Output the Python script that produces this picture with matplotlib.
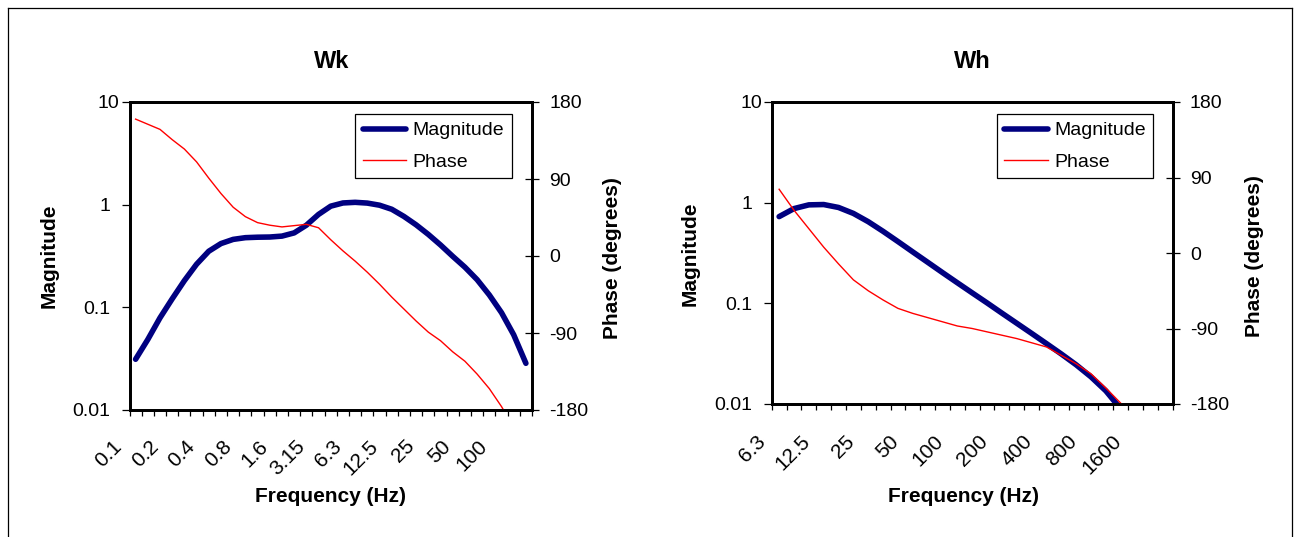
import numpy as np
import matplotlib
matplotlib.use('Agg')
import matplotlib.pyplot as plt
from matplotlib.transforms import ScaledTranslation
from matplotlib.lines import Line2D

plt.rcParams['font.family'] = ['Liberation Sans', 'DejaVu Sans']

# Wk weighting (whole body), one-third octave bands
wk_freq = ['0.1', '0.125', '0.16', '0.2', '0.25', '0.315', '0.4', '0.5', '0.63', '0.8',
           '1', '1.25', '1.6', '2', '2.5', '3.15', '4', '5', '6.3', '8', '10', '12.5',
           '16', '20', '25', '31.5', '40', '50', '63', '80', '100', '125', '160']
wk_mag = [0.0312, 0.0486, 0.079, 0.121, 0.182, 0.263, 0.352, 0.418, 0.459, 0.477,
          0.482, 0.484, 0.494, 0.531, 0.631, 0.804, 0.967, 1.039, 1.054, 1.036, 0.988,
          0.902, 0.768, 0.636, 0.513, 0.405, 0.314, 0.246, 0.186, 0.132, 0.0887,
          0.054, 0.0285]
wk_phase = [160, 154, 148, 136, 125, 110, 91, 73, 57, 46, 39, 36, 34, 35.5, 37, 33,
            19, 6, -6, -19, -33, -48, -62, -76, -89, -99, -112, -123, -138, -155,
            -176, -200, -225]

# Wh weighting (hand-arm)
wh_freq = ['6.3', '8', '10', '12.5', '16', '20', '25', '31.5', '40', '50', '63', '80',
           '100', '125', '160', '200', '250', '315', '400', '500', '630', '800', '1000',
           '1250', '1600', '2000', '2500']
wh_mag = [0.727, 0.873, 0.951, 0.958, 0.896, 0.782, 0.647, 0.519, 0.411, 0.324, 0.256,
          0.202, 0.160, 0.127, 0.101, 0.0799, 0.0634, 0.0503, 0.0398, 0.0314, 0.0245,
          0.0186, 0.0135, 0.00894, 0.00536, 0.00295, 0.00154]
wh_phase = [76, 51, 29, 7, -13, -32, -45, -56, -66, -72, -77, -82, -87, -90, -94, -98,
            -102, -107, -112, -122, -132, -144, -161, -179, -205, -230, -255]

mag_ticks = [0.01, 0.1, 1, 10]
mag_labels = ['0.01', '0.1', '1', '10']
phase_ticks = [-180, -90, 0, 90, 180]
phase_labels = ['-180', '-90', '0', '90', '180']

W, H = 1299, 537
fig = plt.figure(figsize=(W / 100, H / 100), dpi=100)


def px_rect(x0, y0, x1, y1):
    return [x0 / W, 1 - y1 / H, (x1 - x0) / W, (y1 - y0) / H]


def draw(rect, freq, mag, phase, xpad, leg_anchor):
    ax = fig.add_axes(rect)
    x = np.arange(len(freq))
    l1, = ax.plot(x, mag, color='#000080', lw=4.0, solid_capstyle='round',
                  solid_joinstyle='round', label='Magnitude')
    ax.set_yscale('log')
    ax.set_ylim(0.01, 10)
    ax.set_xlim(-0.5, len(freq) - 0.5)
    ax.set_yticks(mag_ticks)
    ax.set_yticklabels(mag_labels)
    ax.yaxis.set_minor_locator(plt.NullLocator())

    # category ticks at boundaries, labels every third category
    ax.set_xticks(np.arange(len(freq) + 1) - 0.5, minor=True)
    ax.set_xticks(x[::3])
    ax.set_xticklabels(freq[::3], rotation=45, ha='right', va='top')
    ax.tick_params(axis='x', which='minor', direction='out', length=4.5, width=0.9)
    ax.tick_params(axis='x', which='major', length=0, pad=xpad, labelsize=15)
    ax.tick_params(axis='y', which='major', direction='out', length=5.5, width=0.9,
                   pad=8.5, labelsize=14)

    ax2 = ax.twinx()
    l2, = ax2.plot(x, phase, color='red', lw=1.0, label='Phase')
    ax2.set_ylim(-180, 180)
    ax2.set_yticks(phase_ticks)
    ax2.set_yticklabels(phase_labels)
    ax2.tick_params(axis='y', direction='inout', length=10, width=0.9, pad=7.3,
                    labelsize=14)

    for a in (ax, ax2):
        for s in a.spines.values():
            s.set_linewidth(2.0)

    # shift rotated labels left like the original
    off = ScaledTranslation(-10 / 100, 0, fig.dpi_scale_trans)
    for lab in ax.get_xticklabels():
        lab.set_transform(lab.get_transform() + off)
    # the "10" label sits closer to the axis
    lab10 = ax.get_yticklabels()[-1]
    lab10.set_transform(lab10.get_transform() + ScaledTranslation(9.5 / 100, 0, fig.dpi_scale_trans))

    leg = ax2.legend([l1, l2], ['Magnitude', 'Phase'], loc='upper right',
                     bbox_to_anchor=leg_anchor, fontsize=14, frameon=True,
                     fancybox=False, edgecolor='black', framealpha=1,
                     borderaxespad=0, borderpad=0.4, labelspacing=0.7,
                     handlelength=2.25, handletextpad=0.3)
    leg.get_frame().set_linewidth(0.9)
    return ax, ax2


draw(px_rect(129.5, 102, 532, 410), wk_freq, wk_mag, wk_phase, 19, (0.9496, 0.961))
draw(px_rect(771.7, 102, 1172.7, 404), wh_freq, wh_mag, wh_phase, 20, (0.9516, 0.960))

def ftext(x, y, s, **kw):
    fig.text(x / W, 1 - y / H, s, ha='center', va='center', **kw)

ftext(331.5, 62, 'Wk', fontsize=17, fontweight='bold')
ftext(972, 62, 'Wh', fontsize=17, fontweight='bold')
ftext(49, 256, 'Magnitude', fontsize=15, fontweight='bold', rotation=90)
ftext(690, 254, 'Magnitude', fontsize=15, fontweight='bold', rotation=90)
ftext(613, 258, 'Phase (degrees)', fontsize=15, fontweight='bold', rotation=90)
ftext(1255, 256, 'Phase (degrees)', fontsize=15, fontweight='bold', rotation=90)
ftext(330, 496, 'Frequency (Hz)', fontsize=15, fontweight='bold')
ftext(963.5, 496, 'Frequency (Hz)', fontsize=15, fontweight='bold')

# outer chart border
for xs, ys in [([8, 1292], [8, 8]), ([8, 8], [8, 537]), ([1292, 1292], [8, 537])]:
    fig.add_artist(Line2D([v / W for v in xs], [1 - v / H for v in ys],
                          color='black', lw=0.9))

fig.savefig('out.png', dpi=100)
